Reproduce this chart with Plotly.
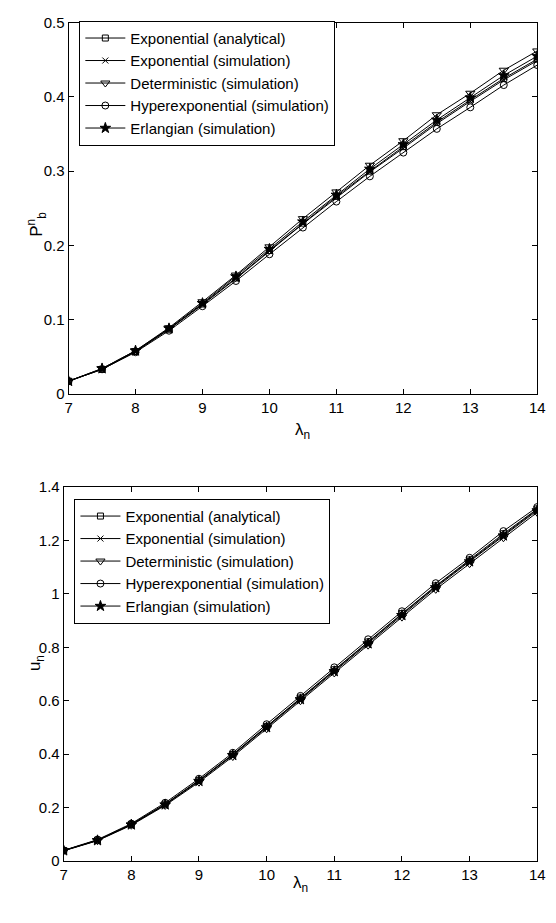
import plotly.graph_objects as go

lam = [7, 7.5, 8, 8.5, 9, 9.5, 10, 10.5, 11, 11.5, 12, 12.5, 13, 13.5, 14]

names = ["Exponential (analytical)", "Exponential (simulation)", "Deterministic (simulation)",
         "Hyperexponential (simulation)", "Erlangian (simulation)"]

# Top panel: P_b^n
pb_exp_ana = [0.017, 0.033, 0.057, 0.087, 0.121, 0.156, 0.193, 0.230, 0.266, 0.300, 0.333, 0.366, 0.396, 0.425, 0.451]
pb_exp_sim = [0.017, 0.033, 0.057, 0.087, 0.120, 0.155, 0.192, 0.229, 0.264, 0.299, 0.331, 0.364, 0.394, 0.423, 0.449]
pb_det_sim = [0.017, 0.034, 0.058, 0.089, 0.124, 0.160, 0.198, 0.236, 0.272, 0.308, 0.341, 0.376, 0.405, 0.436, 0.462]
pb_hyp_sim = [0.017, 0.033, 0.056, 0.085, 0.118, 0.152, 0.188, 0.224, 0.259, 0.293, 0.325, 0.357, 0.386, 0.416, 0.443]
pb_erl_sim = [0.017, 0.034, 0.058, 0.088, 0.122, 0.158, 0.195, 0.232, 0.268, 0.303, 0.336, 0.369, 0.399, 0.429, 0.455]

# Bottom panel: u_n
u_exp_ana = [0.039, 0.078, 0.137, 0.213, 0.302, 0.399, 0.504, 0.610, 0.716, 0.820, 0.926, 1.030, 1.127, 1.225, 1.318]
u_exp_sim = [0.039, 0.078, 0.137, 0.212, 0.301, 0.398, 0.503, 0.609, 0.714, 0.818, 0.924, 1.028, 1.125, 1.222, 1.316]
u_det_sim = [0.038, 0.076, 0.134, 0.208, 0.295, 0.391, 0.495, 0.600, 0.704, 0.808, 0.913, 1.017, 1.113, 1.210, 1.305]
u_hyp_sim = [0.040, 0.080, 0.140, 0.218, 0.308, 0.405, 0.512, 0.618, 0.725, 0.830, 0.935, 1.040, 1.135, 1.235, 1.325]
u_erl_sim = [0.039, 0.077, 0.136, 0.211, 0.299, 0.396, 0.500, 0.605, 0.710, 0.814, 0.920, 1.024, 1.121, 1.218, 1.312]

symbols = ["square-open", "x-thin-open", "triangle-down-open", "circle-open", "star"]
sizes = [6, 6, 8, 7, 8]

W, H = 556, 923
FONT = "Liberation Sans, Arial, Helvetica, sans-serif"
TICK = 15
LEG = 15

fig = go.Figure()

top = [pb_exp_ana, pb_exp_sim, pb_det_sim, pb_hyp_sim, pb_erl_sim]
bot = [u_exp_ana, u_exp_sim, u_det_sim, u_hyp_sim, u_erl_sim]

for i in range(5):
    fig.add_trace(go.Scatter(
        x=lam, y=top[i], name=names[i], mode="lines+markers",
        line=dict(color="black", width=1),
        marker=dict(symbol=symbols[i], size=sizes[i], color="black",
                    line=dict(color="black", width=1)),
        xaxis="x", yaxis="y", legend="legend"))
for i in range(5):
    fig.add_trace(go.Scatter(
        x=lam, y=bot[i], name=names[i], mode="lines+markers",
        line=dict(color="black", width=1),
        marker=dict(symbol=symbols[i], size=sizes[i], color="black",
                    line=dict(color="black", width=1)),
        xaxis="x2", yaxis="y2", legend="legend2"))

axis_common = dict(showgrid=False, zeroline=False, showline=True, linecolor="black",
                   linewidth=1, mirror="ticks", ticks="inside", ticklen=5,
                   tickcolor="black", tickfont=dict(family=FONT, size=TICK, color="black"))

def px_x(p):
    return p / W

def px_y(p):
    return 1 - p / H

fig.update_layout(
    width=W, height=H,
    margin=dict(l=0, r=0, t=0, b=0),
    paper_bgcolor="white", plot_bgcolor="white",
    font=dict(family=FONT, size=TICK, color="black"),
    xaxis=dict(domain=[px_x(66), px_x(545)], range=[7, 14], tickvals=[7, 8, 9, 10, 11, 12, 13, 14],
               anchor="y", **axis_common),
    yaxis=dict(domain=[px_y(392), px_y(14)], range=[0, 0.5], tickvals=[0, 0.1, 0.2, 0.3, 0.4, 0.5],
               ticktext=["0", "0.1", "0.2", "0.3", "0.4", "0.5"], anchor="x", **axis_common),
    xaxis2=dict(domain=[px_x(61), px_x(545)], range=[7, 14], tickvals=[7, 8, 9, 10, 11, 12, 13, 14],
                anchor="y2", **axis_common),
    yaxis2=dict(domain=[px_y(868), px_y(487)], range=[0, 1.4], tickvals=[0, 0.2, 0.4, 0.6, 0.8, 1, 1.2, 1.4],
                ticktext=["0", "0.2", "0.4", "0.6", "0.8", "1", "1.2", "1.4"], anchor="x2", **axis_common),
    legend=dict(xref="paper", yref="paper", x=px_x(77), y=px_y(12), xanchor="left", yanchor="top",
                bgcolor="white", bordercolor="black", borderwidth=1, itemwidth=40,
                font=dict(family=FONT, size=LEG, color="black"), tracegroupgap=0),
    legend2=dict(xref="paper", yref="paper", x=px_x(72), y=px_y(499), xanchor="left", yanchor="top",
                 bgcolor="white", bordercolor="black", borderwidth=1, itemwidth=40,
                 font=dict(family=FONT, size=LEG, color="black"), tracegroupgap=0),
    showlegend=True,
)

fig.add_annotation(text="P<sup>n</sup><sub>b</sub>", x=px_x(19), y=px_y(205), xref="paper", yref="paper",
                   showarrow=False, textangle=-90, font=dict(family=FONT, size=17, color="black"))
fig.add_annotation(text="λ<sub>n</sub>", x=px_x(305), y=px_y(430), xref="paper", yref="paper",
                   showarrow=False, font=dict(family=FONT, size=17, color="black"))
fig.add_annotation(text="u<sub>n</sub>", x=px_x(19), y=px_y(677), xref="paper", yref="paper",
                   showarrow=False, textangle=-90, font=dict(family=FONT, size=17, color="black"))
fig.add_annotation(text="λ<sub>n</sub>", x=px_x(303), y=px_y(905), xref="paper", yref="paper",
                   showarrow=False, font=dict(family=FONT, size=17, color="black"))

fig.write_html("out.html")
